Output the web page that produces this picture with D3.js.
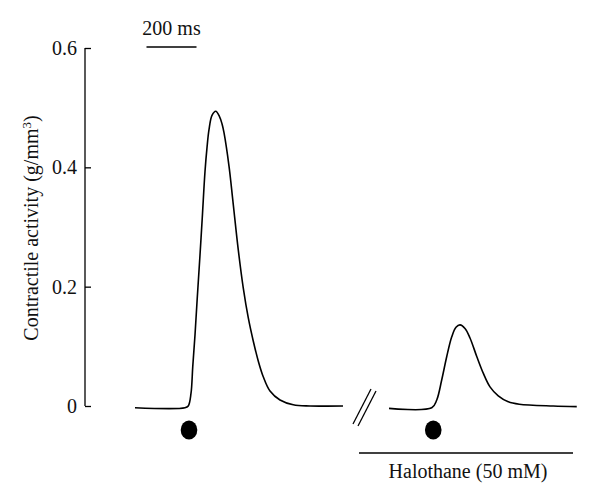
<!DOCTYPE html>
<html><head><meta charset="utf-8">
<script src="https://cdn.jsdelivr.net/npm/d3@7"></script>
<style>html,body{margin:0;padding:0;background:#fff}svg{display:block}</style>
</head><body>
<script>
// Control twitch (time in ms from trace start, contractile activity g/mm^3)
const controlTime = [0,200,213,224,231,240,249,260,269,280,288,296,308,323,338,348,356,376,391,413,433,453,473,493,513,540,580,633,700,832];
const controlValue = [-0.003,-0.003,0.0,0.021,0.066,0.119,0.181,0.253,0.315,0.393,0.433,0.463,0.487,0.494,0.485,0.473,0.458,0.402,0.346,0.262,0.198,0.148,0.109,0.0755,0.049,0.025,0.010,0.002,0.0,0.0];
// Halothane (50 mM) twitch
const haloTime = [0,171,191,211,231,251,268,284,304,324,351,377,404,437,477,521,657,751];
const haloValue = [-0.004,-0.003,0.010,0.044,0.083,0.116,0.132,0.136,0.130,0.114,0.083,0.055,0.032,0.017,0.007,0.003,0.0,-0.001];
// stimulus times (ms)
const stimTimes = [216, 177];
const yTicks = [0, 0.2, 0.4, 0.6];
const yTickLabels = ["0", "0.2", "0.4", "0.6"];
const scaleBarMs = [46, 246];
const scaleBarLabel = "200 ms";
const yLabel = "Contractile activity (g/mm";
const haloLabel = "Halothane (50 mM)";

const W = 600, H = 503;
const svg = d3.select("body").append("svg").attr("width", W).attr("height", H);
const font = "'Liberation Serif', 'Times New Roman', serif";
const fs = 20;

const y = d3.scaleLinear().domain([0, 0.6]).range([406, 48]);
const xCtrl = d3.scaleLinear().domain([0, 832]).range([135, 343]);
const xHalo = d3.scaleLinear().domain([0, 752]).range([389, 577]);

// y axis
const axis = d3.axisLeft(y).tickValues(yTicks).tickSize(-6).tickPadding(8)
  .tickFormat((d, i) => yTickLabels[i]);
const ga = svg.append("g").attr("transform", "translate(85,0)").call(axis);
ga.select(".domain").attr("d", `M0,${y(0)}V${y(0.6)}`).attr("stroke", "#000").attr("stroke-width", 1.3);
ga.selectAll(".tick line").attr("stroke", "#000").attr("stroke-width", 1.3);
ga.selectAll(".tick text").attr("font-family", font).attr("font-size", fs).attr("fill", "#111");

// y label
const yl = svg.append("text").attr("transform", `translate(38,228) rotate(-90)`)
  .attr("text-anchor", "middle").attr("font-family", font).attr("font-size", fs).attr("fill", "#111");
yl.append("tspan").text(yLabel);
yl.append("tspan").attr("dy", -7).attr("font-size", 13).text("3");
yl.append("tspan").attr("dy", 7).text(")");

const line = (xs) => d3.line().x(d => xs(d[0])).y(d => y(d[1])).curve(d3.curveCatmullRom.alpha(0.5));
svg.append("path").datum(controlTime.map((t, i) => [t, controlValue[i]]))
  .attr("d", line(xCtrl)).attr("fill", "none").attr("stroke", "#000").attr("stroke-width", 1.6);
svg.append("path").datum(haloTime.map((t, i) => [t, haloValue[i]]))
  .attr("d", line(xHalo)).attr("fill", "none").attr("stroke", "#000").attr("stroke-width", 1.6);

// stimulus dots
[xCtrl, xHalo].forEach((xs, i) => {
  svg.append("ellipse").attr("cx", xs(stimTimes[i])).attr("cy", y(0) + 24)
    .attr("rx", 8.3).attr("ry", 9.5).attr("fill", "#000");
});

// axis break //
[[0, 0], [5, 2]].forEach(o => {
  svg.append("line").attr("x1", 353 + o[0]).attr("y1", 424 + o[1]).attr("x2", 371 + o[0]).attr("y2", 389 + o[1])
    .attr("stroke", "#000").attr("stroke-width", 1.3);
});

// scale bar
svg.append("line").attr("x1", xCtrl(scaleBarMs[0])).attr("x2", xCtrl(scaleBarMs[1]))
  .attr("y1", 47).attr("y2", 47).attr("stroke", "#000").attr("stroke-width", 1.4);
svg.append("text").attr("x", (xCtrl(scaleBarMs[0]) + xCtrl(scaleBarMs[1])) / 2).attr("y", 35)
  .attr("text-anchor", "middle").attr("font-family", font).attr("font-size", fs).attr("fill", "#111").text(scaleBarLabel);

// halothane bar
svg.append("line").attr("x1", 359).attr("x2", 573).attr("y1", 453).attr("y2", 453)
  .attr("stroke", "#000").attr("stroke-width", 1.4);
svg.append("text").attr("x", 468).attr("y", 478).attr("text-anchor", "middle")
  .attr("font-family", font).attr("font-size", fs).attr("fill", "#111").text(haloLabel);
</script>
</body></html>
